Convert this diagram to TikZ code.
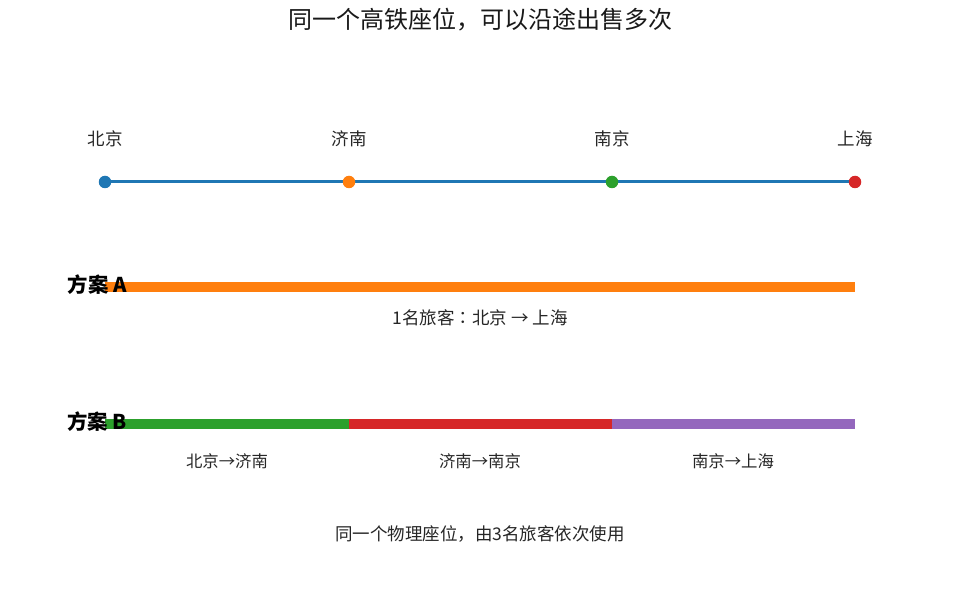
\documentclass[tikz,border=0pt]{standalone}
\usepackage{fontspec}
\setmainfont{Noto Sans CJK SC}
\newfontfamily\jpfont{Noto Sans CJK JP}
\definecolor{tblue}{HTML}{1F77B4}
\definecolor{torange}{HTML}{FF7F0E}
\definecolor{tgreen}{HTML}{2CA02C}
\definecolor{tred}{HTML}{D62728}
\definecolor{tpurple}{HTML}{9467BD}
\begin{document}
\begin{tikzpicture}[x=1pt,y=-1pt,
  stlabel/.style={font=\fontsize{17.5}{20}\selectfont, text=black!85},
  seglabel/.style={font=\fontsize{16.4}{19}\selectfont, text=black!85},
  dot/.style={circle, inner sep=0pt, minimum size=12.5pt},
  bar/.style={line width=10pt, line cap=butt},
  plan/.style={font=\bfseries\fontsize{20.4}{24}\selectfont, anchor=east, inner sep=0pt}]
\useasboundingbox (0,0) rectangle (960,593);
\node[font=\fontsize{24}{28}\selectfont, text=black!90] (title) at (480,20) {同一个高铁座位，可以沿途出售多次};
% stations
\node[stlabel] (lbj) at (105,139) {北京};
\node[stlabel] (ljn) at (349,139) {济南};
\node[stlabel] (lnj) at (612,139) {南京};
\node[stlabel] (lsh) at (855,139) {上海};
\coordinate (bj) at (105,182);
\coordinate (jn) at (349,182);
\coordinate (nj) at (612,182);
\coordinate (sh) at (855,182);
\draw[tblue, line width=3pt] (bj) -- (jn) -- (nj) -- (sh);
\node[dot, fill=tblue] (dbj) at (bj) {};
\node[dot, fill=torange] (djn) at (jn) {};
\node[dot, fill=tgreen] (dnj) at (nj) {};
\node[dot, fill=tred] (dsh) at (sh) {};
% plan A
\coordinate (a0) at (105,287);
\coordinate (a1) at (855,287);
\draw[bar, torange] (a0) -- (a1);
\node[plan] (pa) at (127,285) {方案 A};
\node[stlabel] (capa) at (480,318) {1名旅客{\jpfont ：}北京 → 上海};
% plan B
\coordinate (b0) at (105,424);
\coordinate (b1) at (349,424);
\coordinate (b2) at (612,424);
\coordinate (b3) at (855,424);
\draw[bar, tgreen] (b0) -- (b1);
\draw[bar, tred] (b1) -- (b2);
\draw[bar, tpurple] (b2) -- (b3);
\node[plan] (pb) at (127,422) {方案 B};
\node[seglabel] (s1) at (227,461) {北京→济南};
\node[seglabel] (s2) at (480,461) {济南→南京};
\node[seglabel] (s3) at (733,461) {南京→上海};
\node[stlabel] (foot) at (480,534) {同一个物理座位，由3名旅客依次使用};
\end{tikzpicture}
\end{document}
